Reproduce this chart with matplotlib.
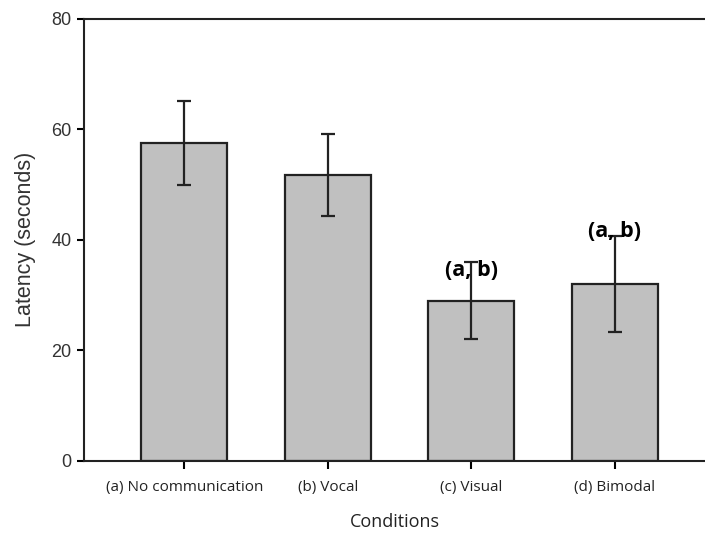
import matplotlib
matplotlib.use("Agg")
import matplotlib.pyplot as plt
import numpy as np

conditions = ["(a) No communication", "(b) Vocal", "(c) Visual", "(d) Bimodal"]
latency = [57.5, 51.8, 29.0, 32.0]
err = [7.6, 7.4, 7.0, 8.7]
sig_labels = ["", "", "(a, b)", "(a, b)"]
sig_y = [None, None, 34.5, 41.5]

fig = plt.figure(figsize=(7.05, 5.36), dpi=100)
ax = fig.add_axes([0.119, 0.140, 0.881, 0.825])

x = np.arange(len(conditions))
ax.bar(x, latency, width=0.6, color="#c0c0c0", edgecolor="#222222",
       linewidth=1.6, zorder=2)
ax.errorbar(x, latency, yerr=err, fmt="none", ecolor="#222222",
            elinewidth=1.6, capsize=5, capthick=1.6, zorder=3)

for xi, lab, yi in zip(x, sig_labels, sig_y):
    if lab:
        ax.text(xi, yi, lab, ha="center", va="center", fontsize=15.5,
                fontweight="bold", family="Open Sans", zorder=4)

ax.set_xlim(-0.7, 3.63)
ax.set_ylim(0, 80)
ax.set_yticks([0, 20, 40, 60, 80])
ax.set_xticks(x)
ax.set_xticklabels(conditions, family="Open Sans", fontsize=11, color="#222222")
ax.tick_params(axis="y", direction="out", length=5, width=1.5,
               labelsize=13, pad=4, labelcolor="#333333")
ax.tick_params(axis="x", direction="out", length=6, width=1.5, pad=8)
for lab in ax.get_yticklabels():
    lab.set_family("Liberation Sans")

for side in ["left", "bottom", "top"]:
    ax.spines[side].set_linewidth(1.5)
    ax.spines[side].set_color("#222222")
ax.spines["right"].set_visible(False)

ax.set_ylabel("Latency (seconds)", family="Liberation Sans", fontsize=15.5,
              labelpad=11, color="#333333")
ax.set_xlabel("Conditions", family="Open Sans", fontsize=13, labelpad=13,
              color="#222222")

fig.savefig("out.png", dpi=100)
